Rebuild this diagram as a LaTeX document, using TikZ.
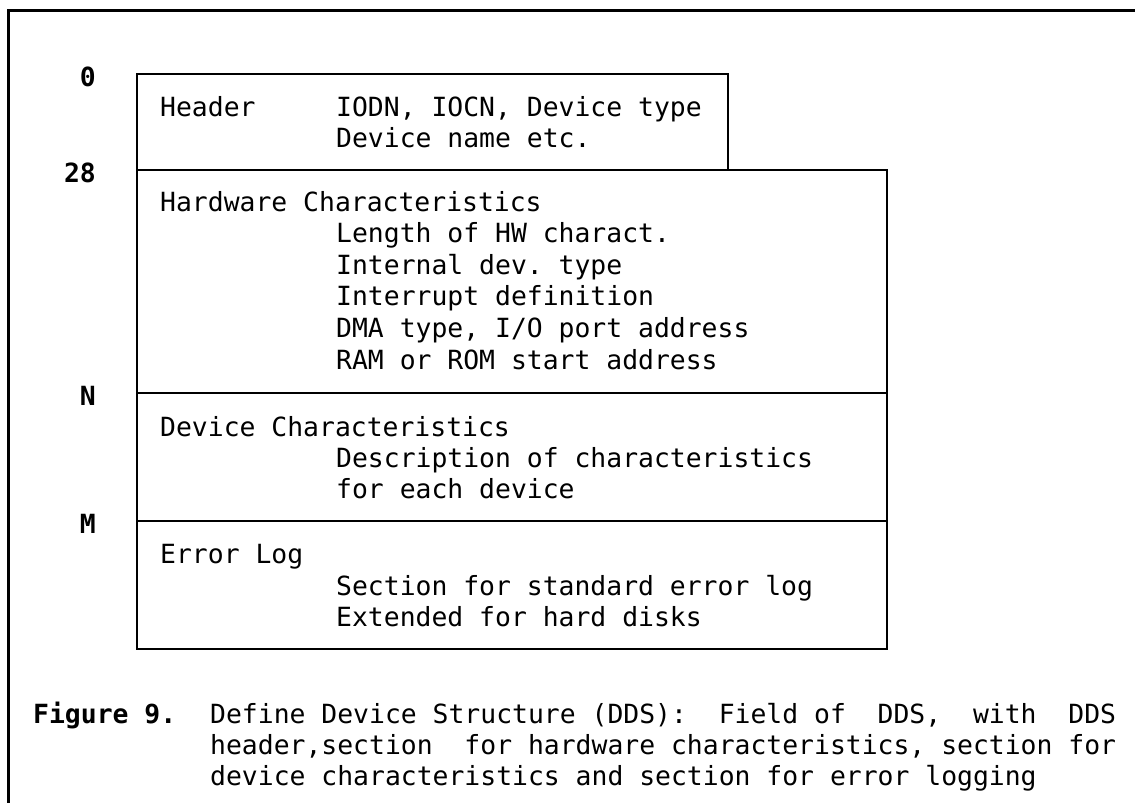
\documentclass[tikz,border=0pt]{standalone}
\usepackage{fontspec}
\setmonofont{DejaVu Sans Mono}
\begin{document}
\begin{tikzpicture}[x=1pt,y=-1pt,
  txt/.style={anchor=base west,inner sep=0pt,font=\ttfamily\fontsize{26.4}{31}\selectfont},
  offs/.style={anchor=east,inner sep=0pt,font=\ttfamily\bfseries\fontsize{26.4}{31}\selectfont},
  boxline/.style={line width=2.6pt,line cap=rect,line join=miter},
  frameline/.style={line width=3pt}]
\useasboundingbox (0,0) rectangle (1135,803);

% page frame (top and left rules)
\coordinate (frTR) at (1135,10);
\coordinate (frTL) at (8,10);
\coordinate (frBL) at (8,803);
\draw[frameline] (frTR) -- (frTL) -- (frBL);

% field boundaries of the structure
\coordinate (hTL) at (137,74);
\coordinate (hTR) at (728,74);
\coordinate (hBR) at (728,170);
\coordinate (wTL) at (137,170);
\coordinate (wTR) at (887,170);
\coordinate (nL) at (137,393);
\coordinate (nR) at (887,393);
\coordinate (mL) at (137,521);
\coordinate (mR) at (887,521);
\coordinate (bL) at (137,649);
\coordinate (bR) at (887,649);
\draw[boxline] (hTL) -- (hTR) -- (hBR);
\draw[boxline] (wTL) -- (wTR) -- (bR) -- (bL) -- cycle;
\draw[boxline] (hTL) -- (wTL);
\draw[boxline] (nL) -- (nR);
\draw[boxline] (mL) -- (mR);

% offsets
\node[offs] (o0)  at (96,77)  {0};
\node[offs] (o28) at (96,173) {28};
\node[offs] (oN)  at (96,396) {N};
\node[offs] (oM)  at (96,524) {M};

% header
\node[txt] (hd)  at (160,116) {Header};
\node[txt] (hd1) at (336,116) {IODN, IOCN, Device type};
\node[txt] (hd2) at (336,147) {Device name etc.};

% hardware characteristics
\node[txt] (hw)  at (160,211) {Hardware Characteristics};
\node[txt] (hw1) at (336,242.6) {Length of HW charact.};
\node[txt] (hw2) at (336,274.2) {Internal dev. type};
\node[txt] (hw3) at (336,305.8) {Interrupt definition};
\node[txt] (hw4) at (336,337.4) {DMA type, I/O port address};
\node[txt] (hw5) at (336,369) {RAM or ROM start address};

% device characteristics
\node[txt] (dc)  at (160,436) {Device Characteristics};
\node[txt] (dc1) at (336,467) {Description of characteristics};
\node[txt] (dc2) at (336,498) {for each device};

% error log
\node[txt] (el)  at (160,563) {Error Log};
\node[txt] (el1) at (336,595) {Section for standard error log};
\node[txt] (el2) at (336,626) {Extended for hard disks};

% caption
\node[txt,font=\ttfamily\bfseries\fontsize{26.4}{31}\selectfont] (fg) at (33,723) {Figure 9.};
\node[txt] (cap1) at (210,723) {Define Device Structure (DDS):~~Field of~~DDS,~~with~~DDS};
\node[txt] (cap2) at (210,754) {header,section~~for hardware characteristics, section for};
\node[txt] (cap3) at (210,785) {device characteristics and section for error logging};
\end{tikzpicture}
\end{document}
